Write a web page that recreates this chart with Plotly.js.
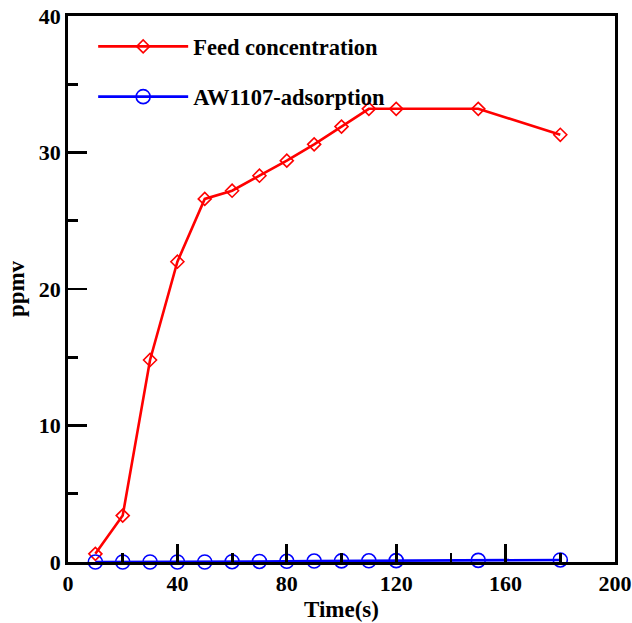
<!DOCTYPE html>
<html>
<head>
<meta charset="utf-8">
<script src="https://cdn.plot.ly/plotly-3.0.1.min.js"></script>
<style>html,body{margin:0;padding:0;background:#fff;}#chart{width:632px;height:623px;}</style>
</head>
<body>
<div id="chart"></div>
<script>
const feedTime = [10, 20, 30, 40, 50, 60, 70, 80, 90, 100, 110, 120, 150, 180];
const feedConc = [0.6, 3.4, 14.8, 22.0, 26.6, 27.2, 28.3, 29.4, 30.6, 31.9, 33.2, 33.2, 33.2, 31.3];
const adsTime = [10, 20, 30, 40, 50, 60, 70, 80, 90, 100, 110, 120, 150, 180];
const adsConc = [0.0, 0.0, 0.0, 0.0, 0.0, 0.02, 0.04, 0.05, 0.07, 0.08, 0.09, 0.1, 0.12, 0.15];
const seriesNames = ["Feed concentration", "AW1107-adsorption"];

const font = {family: "Liberation Serif, Times New Roman, serif", color: "#000"};

const traces = [
  {x: feedTime, y: feedConc, name: seriesNames[0], legendgroup: "a", type: "scatter", mode: "lines+markers",
   line: {color: "#ff0000", width: 2.6},
   marker: {symbol: "diamond-open", size: 10, color: "#ff0000", line: {width: 1.6, color: "#ff0000"}},
   cliponaxis: false},
  {x: adsTime, y: adsConc, name: seriesNames[1], legendgroup: "b", type: "scatter", mode: "lines+markers",
   line: {color: "#0000ff", width: 2.6},
   marker: {symbol: "circle-open", size: 14, color: "#0000ff", line: {width: 1.6, color: "#0000ff"}},
   cliponaxis: false}
];

const layout = {
  width: 632, height: 623,
  margin: {l: 68, r: 17, t: 16, b: 61},
  paper_bgcolor: "#fff", plot_bgcolor: "#fff",
  font: font,
  showlegend: true,
  legend: {x: 0.046, y: 0.983, xanchor: "left", yanchor: "top", bgcolor: "rgba(0,0,0,0)",
           itemwidth: 90, tracegroupgap: 18,
           font: {family: font.family, size: 22.5, color: "#000", weight: "bold"}},
  xaxis: {range: [0, 200], dtick: 40, tick0: 0, ticks: "inside", ticklen: 18, tickwidth: 2.8, tickcolor: "#000",
          showline: true, linewidth: 2.8, linecolor: "#000", mirror: true, showgrid: false, zeroline: false,
          minor: {ticks: "inside", dtick: 20, ticklen: 9, tickwidth: 2.8, tickcolor: "#000", showgrid: false},
          tickfont: {family: font.family, size: 22, color: "#000", weight: "bold"},
          title: {text: "Time(s)", standoff: 6, font: {family: font.family, size: 23, color: "#000", weight: "bold"}}},
  yaxis: {range: [0, 40], dtick: 10, tick0: 0, ticks: "inside", ticklen: 19, tickwidth: 2.8, tickcolor: "#000",
          showline: true, linewidth: 2.8, linecolor: "#000", mirror: true, showgrid: false, zeroline: false,
          minor: {ticks: "inside", dtick: 5, ticklen: 10, tickwidth: 2.8, tickcolor: "#000", showgrid: false},
          tickfont: {family: font.family, size: 22, color: "#000", weight: "bold"},
          title: {text: "ppmv", standoff: 8, font: {family: font.family, size: 23, color: "#000", weight: "bold"}}}
};

Plotly.newPlot("chart", traces, layout, {displayModeBar: false, staticPlot: true});
</script>
</body>
</html>
